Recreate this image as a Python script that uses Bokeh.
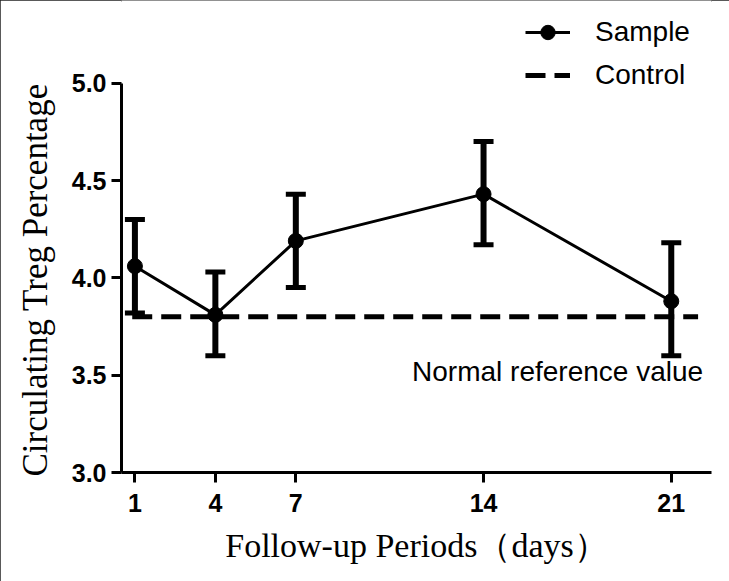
from bokeh.plotting import figure
from bokeh.models import (ColumnDataSource, Whisker, TeeHead, Legend, LegendItem,
                          FixedTicker, Range1d, Label, Title, CustomJSTickFormatter)
from bokeh.embed import file_html
from bokeh.resources import INLINE

# ---- data ----
days = [1, 4, 7, 14, 21]
treg_mean = [4.06, 3.81, 4.19, 4.43, 3.88]
treg_upper = [4.30, 4.03, 4.43, 4.70, 4.18]
treg_lower = [3.82, 3.60, 3.95, 4.17, 3.60]
control_value = 3.8
control_days = [0.9, 22.0]
x_ticks = [1, 4, 7, 14, 21]
y_ticks = [3.0, 3.5, 4.0, 4.5, 5.0]
y_axis_bounds = (3.0, 5.0)

src = ColumnDataSource(dict(x=days, y=treg_mean, upper=treg_upper, lower=treg_lower))
ctrl = ColumnDataSource(dict(x=control_days, y=[control_value] * len(control_days)))

# frame extends above 5.0 so the legend can sit in the top area; the axis line is bounded
p = figure(width=729, height=581, output_backend="svg", toolbar_location=None,
           x_range=Range1d(0.5, 22.5), y_range=Range1d(3.0, 5.425),
           frame_width=590, frame_height=472,
           min_border_left=121, min_border_right=18, min_border_top=0, min_border_bottom=109)
p.grid.visible = False
p.outline_line_color = None
p.background_fill_color = "white"
p.border_fill_color = "white"
p.styles = {"outline": "2px solid #222222", "outline-offset": "-2px"}

# error bars
wh = Whisker(source=src, base="x", upper="upper", lower="lower",
             line_width=6, line_color="black",
             upper_head=TeeHead(size=20, line_width=5, line_color="black"),
             lower_head=TeeHead(size=20, line_width=5, line_color="black"))
wh.level = "glyph"
p.add_layout(wh)

l1 = p.line("x", "y", source=src, line_width=3, line_color="black")
s1 = p.scatter("x", "y", source=src, size=15, fill_color="black", line_color="black")
l2 = p.line("x", "y", source=ctrl, line_width=5, line_color="black", line_dash="20 9")

lab = Label(x=control_days[1], y=control_value, x_offset=5, y_offset=-70,
            text="Normal reference value", text_align="right",
            text_font="Liberation Sans", text_font_size="28px", text_color="black")
p.add_layout(lab)

# axes
for ax in (p.xaxis[0], p.yaxis[0]):
    ax.axis_line_width = 3
    ax.axis_line_color = "black"
    ax.major_tick_line_width = 3
    ax.major_tick_line_color = "black"
    ax.major_tick_out = 10
    ax.major_tick_in = 0
    ax.minor_tick_line_color = None
    ax.major_label_text_font = "Liberation Sans"
    ax.major_label_text_font_style = "bold"
    ax.major_label_text_font_size = "25px"
    ax.major_label_text_color = "black"
    ax.axis_label_text_font = "Liberation Serif"
    ax.axis_label_text_font_style = "normal"
    ax.axis_label_text_color = "black"

p.xaxis.axis_label_text_font_size = "34px"
p.yaxis.bounds = y_axis_bounds
p.xaxis.ticker = FixedTicker(ticks=x_ticks)
p.yaxis.ticker = FixedTicker(ticks=y_ticks)
p.yaxis.formatter = CustomJSTickFormatter(code="return tick.toFixed(1);")
p.xaxis.major_label_standoff = 11
p.yaxis.major_label_standoff = 5
p.xaxis.axis_label = "Follow-up Periods（days）"
p.xaxis.axis_label_standoff = 12

# y axis title, centred on the 3.0-5.0 span rather than the whole frame
ytitle = Title(text="Circulating Treg Percentage", align="left", offset=-4,
               vertical_align="top", standoff=24,
               text_font="Liberation Serif", text_font_size="35px",
               text_font_style="normal", text_color="black")
p.add_layout(ytitle, "left")

legend = Legend(items=[LegendItem(label="Sample", renderers=[l1, s1]),
                       LegendItem(label="Control", renderers=[l2])],
                location=(404, 379), orientation="vertical",
                glyph_width=45, glyph_height=36, label_height=36,
                label_standoff=25, spacing=7, padding=0, margin=0,
                border_line_color=None, background_fill_alpha=0,
                label_text_font="Liberation Sans", label_text_font_size="28px",
                label_text_color="black")
p.add_layout(legend, "center")

open("out.html", "w").write(file_html(p, INLINE))
